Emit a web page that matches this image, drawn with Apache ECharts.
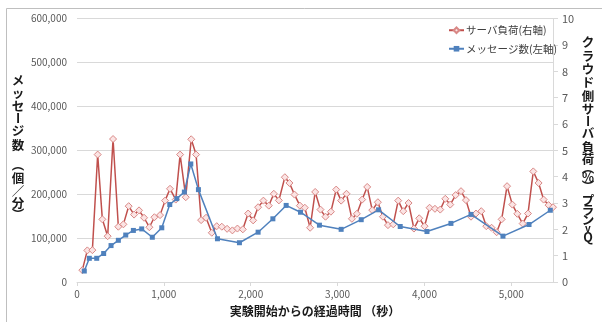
<!DOCTYPE html>
<html>
<head>
<meta charset="utf-8">
<script src="https://cdn.jsdelivr.net/npm/echarts@6/dist/echarts.min.js"></script>
<style>
  html, body { margin: 0; padding: 0; background: #fff; }
  #chart { width: 602px; height: 322px; }
</style>
</head>
<body>
<div id="chart"></div>
<script>
// サーバ負荷（右軸, %）: 経過時間（秒）ごとの値
const loadTime = [61, 119, 177, 238, 292, 353, 415, 476, 534, 595, 657, 714, 772, 833, 891, 956,
  1014, 1071, 1137, 1187, 1252, 1315, 1371, 1429, 1486, 1552, 1609, 1667, 1728, 1789, 1847, 1909,
  1970, 2028, 2085, 2146, 2208, 2266, 2324, 2393, 2446, 2504, 2566, 2623, 2684, 2742, 2803, 2861,
  2923, 2984, 3041, 3103, 3165, 3222, 3283, 3341, 3399, 3464, 3522, 3580, 3641, 3698, 3756, 3817,
  3879, 3940, 4001, 4059, 4121, 4182, 4240, 4297, 4359, 4421, 4478, 4536, 4593, 4654, 4712, 4773,
  4831, 4889, 4951, 5012, 5069, 5131, 5192, 5253, 5314, 5372, 5429, 5480];
const loadPct = [0.45, 1.2, 1.21, 4.84, 2.38, 1.74, 5.43, 2.1, 2.19, 2.88, 2.56, 2.72, 2.44, 2.08, 2.46, 2.54,
  3.09, 3.54, 3.13, 4.84, 3.22, 5.42, 4.84, 2.35, 2.44, 1.87, 2.12, 2.1, 2.02, 1.96, 2.03, 2.0,
  2.6, 2.34, 2.84, 3.09, 2.9, 3.35, 3.1, 3.98, 3.76, 3.32, 2.9, 2.82, 2.06, 3.42, 2.75, 2.48,
  2.67, 3.51, 3.09, 3.35, 2.4, 2.59, 3.13, 3.61, 2.73, 3.03, 2.48, 2.16, 2.19, 3.09, 2.69, 3.0,
  2.03, 2.42, 2.12, 2.82, 2.78, 2.75, 3.16, 2.94, 3.3, 3.45, 3.11, 2.48, 2.6, 2.69, 2.12, 2.06,
  1.89, 2.38, 3.64, 2.94, 2.59, 2.22, 2.6, 4.2, 3.76, 3.13, 2.92, 2.84];

// メッセージ数（左軸, 個/分）
const msgTime = [84, 142, 227, 307, 392, 476, 561, 649, 745, 867, 976, 1068, 1149, 1236, 1310, 1398,
  1617, 1870, 2085, 2255, 2408, 2573, 2791, 3041, 3272, 3472, 3721, 4029, 4305, 4536, 4904, 5204, 5449];
const msgCount = [25000, 54000, 54000, 65000, 83000, 95000, 107000, 117500, 121000, 102000, 123500,
  176500, 190000, 205000, 269000, 210500, 98500, 89500, 113500, 144000, 174500, 159000, 129500,
  120000, 142000, 164500, 126500, 115000, 133500, 154000, 104500, 131000, 163500];

const seriesNames = ['サーバ負荷(右軸)', 'メッセージ数(左軸)'];
const leftTitle = ['メ', 'ッ', 'セ', 'ー', 'ジ', '数', '（', '個', '／', '分', '）'];
const rightTitle = ['ク', 'ラ', 'ウ', 'ド', '側', 'サ', 'ー', 'バ', '負', '荷', '（', '%', '）', 'プ', 'ラ', 'ン', 'v', 'Q'];
const xTitle = '実験開始からの経過時間 （秒）';

const FONT = '"Noto Sans CJK JP", "Noto Sans", sans-serif';

// 縦書きタイトルの各文字の縦位置（px）
const leftTitleY = [80, 93, 106, 118, 131, 145, 165, 178, 191, 203, 214];
const rightTitleY = [42, 56, 69, 82, 96, 109, 121, 133, 147, 159, 168, 177, 186, 200, 210, 220, 228, 237];

// 縦書きで90度回す文字（長音・括弧）
const ROTATED = new Set(['ー', '（', '）']);

function verticalTitle(chars, ys, cx) {
  return chars.map((ch, i) => ({
    type: 'text',
    x: cx,
    y: ys[i],
    rotation: ROTATED.has(ch) ? -Math.PI / 2 : 0,
    style: {
      text: ch,
      font: (ch === 'v' ? 'bold 10px ' : 'bold 12.5px ') + FONT,
      fill: '#1a1a1a',
      align: 'center',
      verticalAlign: 'middle'
    },
    silent: true
  }));
}

const chart = echarts.init(document.getElementById('chart'), null, { renderer: 'canvas' });

const loadData = loadTime.map((t, i) => [t, loadPct[i]]);
const msgData = msgTime.map((t, i) => [t, msgCount[i]]);

chart.setOption({
  animation: false,
  backgroundColor: '#ffffff',
  textStyle: { fontFamily: FONT },
  grid: { left: 77, right: 49, top: 18.7, bottom: 39.3, containLabel: false },
  legend: {
    orient: 'vertical',
    left: 443,
    top: 20,
    itemWidth: 15,
    itemHeight: 7,
    itemGap: 8,
    data: seriesNames,
    textStyle: { fontFamily: FONT, fontSize: 10.5, color: '#404040', padding: [0, 0, 0, -3] }
  },
  xAxis: {
    type: 'value',
    min: 0,
    max: 5480,
    interval: 1000,
    name: xTitle,
    nameLocation: 'middle',
    nameGap: 23,
    nameTextStyle: { fontFamily: FONT, fontSize: 12, fontWeight: 'bold', color: '#1a1a1a' },
    axisLine: { show: true, lineStyle: { color: '#d9d9d9', width: 1 } },
    axisTick: { show: true, length: 4, lineStyle: { color: '#d9d9d9' } },
    splitLine: { show: false },
    axisLabel: {
      fontFamily: FONT, fontSize: 10, color: '#595959', margin: 7,
      showMaxLabel: false,
      formatter: v => (v % 1000 === 0 ? v.toLocaleString('en-US') : '')
    }
  },
  yAxis: [
    {
      type: 'value',
      min: 0,
      max: 600000,
      interval: 100000,
      position: 'left',
      axisLine: { show: false },
      axisTick: { show: false },
      splitLine: { show: true, lineStyle: { color: '#d9d9d9', width: 1 } },
      axisLabel: {
        fontFamily: FONT, fontSize: 10, color: '#595959', margin: 10,
        formatter: v => v.toLocaleString('en-US')
      }
    },
    {
      type: 'value',
      min: 0,
      max: 10,
      interval: 1,
      position: 'right',
      axisLine: { show: true, lineStyle: { color: '#d9d9d9', width: 1 } },
      axisTick: { show: true, length: 5, lineStyle: { color: '#d9d9d9' } },
      splitLine: { show: false },
      axisLabel: { fontFamily: FONT, fontSize: 11, color: '#595959', margin: 9 }
    }
  ],
  series: [
    {
      name: seriesNames[0],
      type: 'line',
      yAxisIndex: 1,
      data: loadData,
      symbol: 'diamond',
      symbolSize: 7,
      lineStyle: { color: '#c0504d', width: 1.5 },
      itemStyle: { color: '#fbe4e4', borderColor: '#d98886', borderWidth: 1 },
      z: 3
    },
    {
      name: seriesNames[1],
      type: 'line',
      yAxisIndex: 0,
      data: msgData,
      symbol: 'rect',
      symbolSize: 5,
      lineStyle: { color: '#4f81bd', width: 1.5 },
      itemStyle: { color: '#4f81bd' },
      z: 4
    }
  ],
  graphic: [
    {
      type: 'rect',
      shape: { x: 6.5, y: 8.5, width: 640, height: 340 },
      style: { fill: 'none', stroke: '#bfbfbf', lineWidth: 1 },
      silent: true
    }
  ].concat(verticalTitle(leftTitle, leftTitleY, 18), verticalTitle(rightTitle, rightTitleY, 588))
});
</script>
</body>
</html>
